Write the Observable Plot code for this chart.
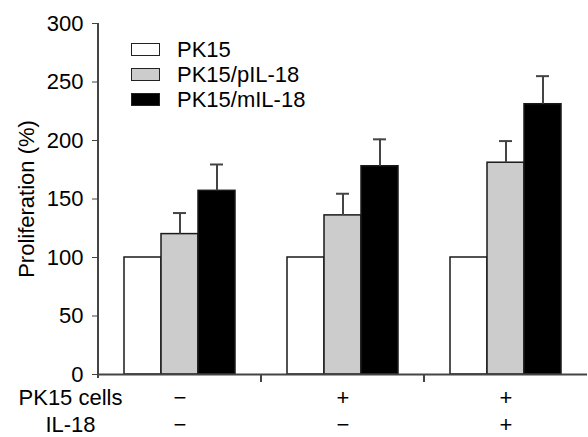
<!DOCTYPE html>
<html><head><meta charset="utf-8">
<script src="https://cdn.jsdelivr.net/npm/d3@7"></script>
<script src="https://cdn.jsdelivr.net/npm/@observablehq/plot@0.6"></script>
<style>
body{margin:0;background:#fff;font-family:"Liberation Sans",Arial,sans-serif;}
#wrap{position:relative;width:588px;height:437px;}
#legend{position:absolute;left:131px;top:37px;font-size:22px;color:#000;line-height:25px;}
.row{display:flex;align-items:center;height:25px;}
.sw{width:27px;height:11px;border:1px solid #222;margin-right:17px;}
</style></head><body><div id="wrap"></div>
<script>
const series = ["PK15", "PK15/pIL-18", "PK15/mIL-18"];
const groups = ["−/−", "+/−", "+/+"];
const pk15Cells = ["−", "+", "+"];
const il18 = ["−", "−", "+"];
const rowLabels = ["PK15 cells", "IL-18"];
const valPK15 = [100, 100, 100];
const valPIL18 = [120, 136, 181];
const valMIL18 = [157, 178, 231];
const errPK15 = [0, 0, 0];
const errPIL18 = [18, 18.5, 18.5];
const errMIL18 = [22.5, 23, 24];
const yTicks = [0, 50, 100, 150, 200, 250, 300];
const fills = ["#ffffff", "#cccccc", "#000000"];

const vals = [valPK15, valPIL18, valMIL18];
const errs = [errPK15, errPIL18, errMIL18];
const rows = groups.flatMap((g, i) => series.map((s, j) => ({group: g, series: s, value: vals[j][i], err: errs[j][i]})));
const withErr = rows.filter(d => d.err > 0);
const groupRows = groups.map((g, i) => ({group: g, pk: pk15Cells[i], il: il18[i]}));

const chart = Plot.plot({
  width: 588, height: 437,
  marginLeft: 97, marginRight: 0, marginTop: 23, marginBottom: 63,
  style: {fontSize: "22px", fontFamily: "'Liberation Sans', Arial, sans-serif", background: "white", color: "black", overflow: "visible"},
  fx: {domain: groups, padding: 0, axis: null},
  x: {domain: series, paddingInner: 0, paddingOuter: 0.68, axis: null},
  y: {domain: [0, 300]},
  color: {domain: series, range: fills},
  marks: [
    Plot.barY(rows, {fx: "group", x: "series", y: "value", fill: "series", stroke: "#1a1a1a", strokeWidth: 1.5}),
    Plot.ruleX(withErr, {fx: "group", x: "series", y1: "value", y2: d => d.value + d.err, stroke: "#444", strokeWidth: 2}),
    Plot.tickY(withErr, {fx: "group", x: "series", y: d => d.value + d.err, stroke: "#444", strokeWidth: 2, insetLeft: 12, insetRight: 12}),
    Plot.ruleY([0], {stroke: "#444", strokeWidth: 2}),
    Plot.axisY({ticks: yTicks, tickSize: 6, tickPadding: 9, stroke: "#444", label: "Proliferation (%)", labelAnchor: "center", labelOffset: 80, labelArrow: "none"}),
    Plot.text(groupRows, {fx: "group", frameAnchor: "bottom", dy: 11, lineAnchor: "top", lineHeight: 1.24, text: d => d.pk + "\n" + d.il}),
    Plot.text([groups[0]], {fx: d => d, frameAnchor: "bottom-left", dx: -28, dy: 11, lineAnchor: "top", lineHeight: 1.24, textAnchor: "middle", text: () => rowLabels.join("\n")})
  ]
});

const wrap = document.getElementById("wrap");
wrap.appendChild(chart);

// axis line and group boundary ticks, positioned from the plot's scales
const fx = chart.scale("fx"), y = chart.scale("y");
const svg = d3.select(chart);
const x0 = fx.apply(groups[0]);
const y0 = y.apply(0);
svg.append("line").attr("x1", x0).attr("x2", x0).attr("y1", y.apply(300)).attr("y2", y0 + 4)
  .attr("stroke", "#444").attr("stroke-width", 2);
groups.slice(0, -1).forEach(g => {
  const xb = fx.apply(g) + fx.bandwidth;
  svg.append("line").attr("x1", xb).attr("x2", xb).attr("y1", y0).attr("y2", y0 + 8)
    .attr("stroke", "#444").attr("stroke-width", 2);
});

// legend
const color = chart.scale("color");
const legend = document.createElement("div");
legend.id = "legend";
series.forEach(s => {
  const r = document.createElement("div"); r.className = "row";
  const sw = document.createElement("div"); sw.className = "sw"; sw.style.background = color.apply(s);
  const t = document.createElement("span"); t.textContent = s;
  r.appendChild(sw); r.appendChild(t); legend.appendChild(r);
});
wrap.appendChild(legend);
</script></body></html>
